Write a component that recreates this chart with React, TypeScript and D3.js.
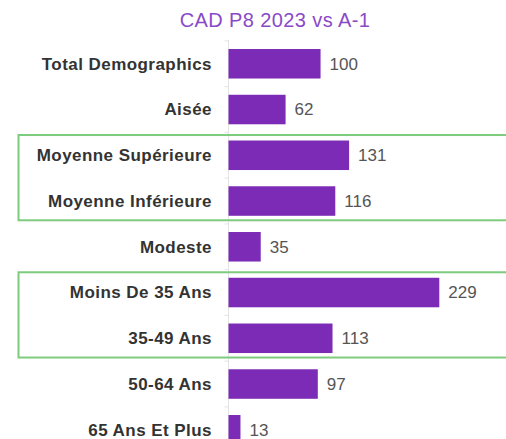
import React from "react";
import * as d3 from "d3";

const title = "CAD P8 2023 vs A-1";
const categories = [
  "Total Demographics",
  "Aisée",
  "Moyenne Supérieure",
  "Moyenne Inférieure",
  "Modeste",
  "Moins De 35 Ans",
  "35-49 Ans",
  "50-64 Ans",
  "65 Ans Et Plus",
];
const values = [100, 62, 131, 116, 35, 229, 113, 97, 13];
// rows framed by a green box
const highlightGroups = [
  ["Moyenne Supérieure", "Moyenne Inférieure"],
  ["Moins De 35 Ans", "35-49 Ans"],
];

export default function App() {
  const w = 506;
  const h = 439;
  const x0 = 228.5;

  // setting up scales
  const yScale = d3
    .scaleBand<string>()
    .domain(categories)
    .range([40.9, 40.9 + categories.length * 45.75])
    .paddingInner(0.355)
    .paddingOuter(0.1775);
  const xScale = d3.scaleLinear().domain([0, 229]).range([x0, 439.3]);
  const bw = yScale.bandwidth();
  const step = yScale.step();

  const font = "Arial, Helvetica, sans-serif";

  return (
    <svg
      width={w}
      height={h}
      style={{ position: "absolute", left: 0, top: 0, background: "#fff", fontFamily: font }}
    >
      <text x={275} y={27} textAnchor="middle" fontSize={20} fill="#8a4ac8" letterSpacing={0.4}>
        {title}
      </text>

      {/* axis line + ticks */}
      <line x1={x0} x2={x0} y1={40} y2={h} stroke="#e4e4e4" strokeWidth={1} />
      {categories.map((c, i) => (
        <line
          key={"t" + c}
          x1={x0 - 4}
          x2={x0}
          y1={yScale.range()[0] + i * step}
          y2={yScale.range()[0] + i * step}
          stroke="#e4e4e4"
        />
      ))}

      {/* green boxes */}
      {highlightGroups.map((g, i) => {
        const top = (yScale(g[0]) ?? 0) - 5.5;
        const bottom = (yScale(g[g.length - 1]) ?? 0) + bw + 4.5;
        return (
          <rect
            key={"box" + i}
            x={18.5}
            y={top}
            width={500}
            height={bottom - top}
            fill="none"
            stroke="#7dcc7d"
            strokeWidth={2}
          />
        );
      })}

      {categories.map((c, i) => {
        const y = yScale(c) ?? 0;
        const v = values[i];
        return (
          <g key={c}>
            <rect
              x={xScale(0)}
              y={y}
              width={xScale(v) - xScale(0)}
              height={bw}
              fill="#7b2bb5"
            />
            <text
              x={212}
              y={y + bw / 2}
              dy="0.35em"
              textAnchor="end"
              fontSize={17}
              fontWeight="bold"
              fill="#333"
              letterSpacing={0.45}
            >
              {c}
            </text>
            <text
              x={xScale(v) + 9}
              y={y + bw / 2}
              dy="0.35em"
              fontSize={17}
              fill="#555"
            >
              {v}
            </text>
          </g>
        );
      })}
    </svg>
  );
}
